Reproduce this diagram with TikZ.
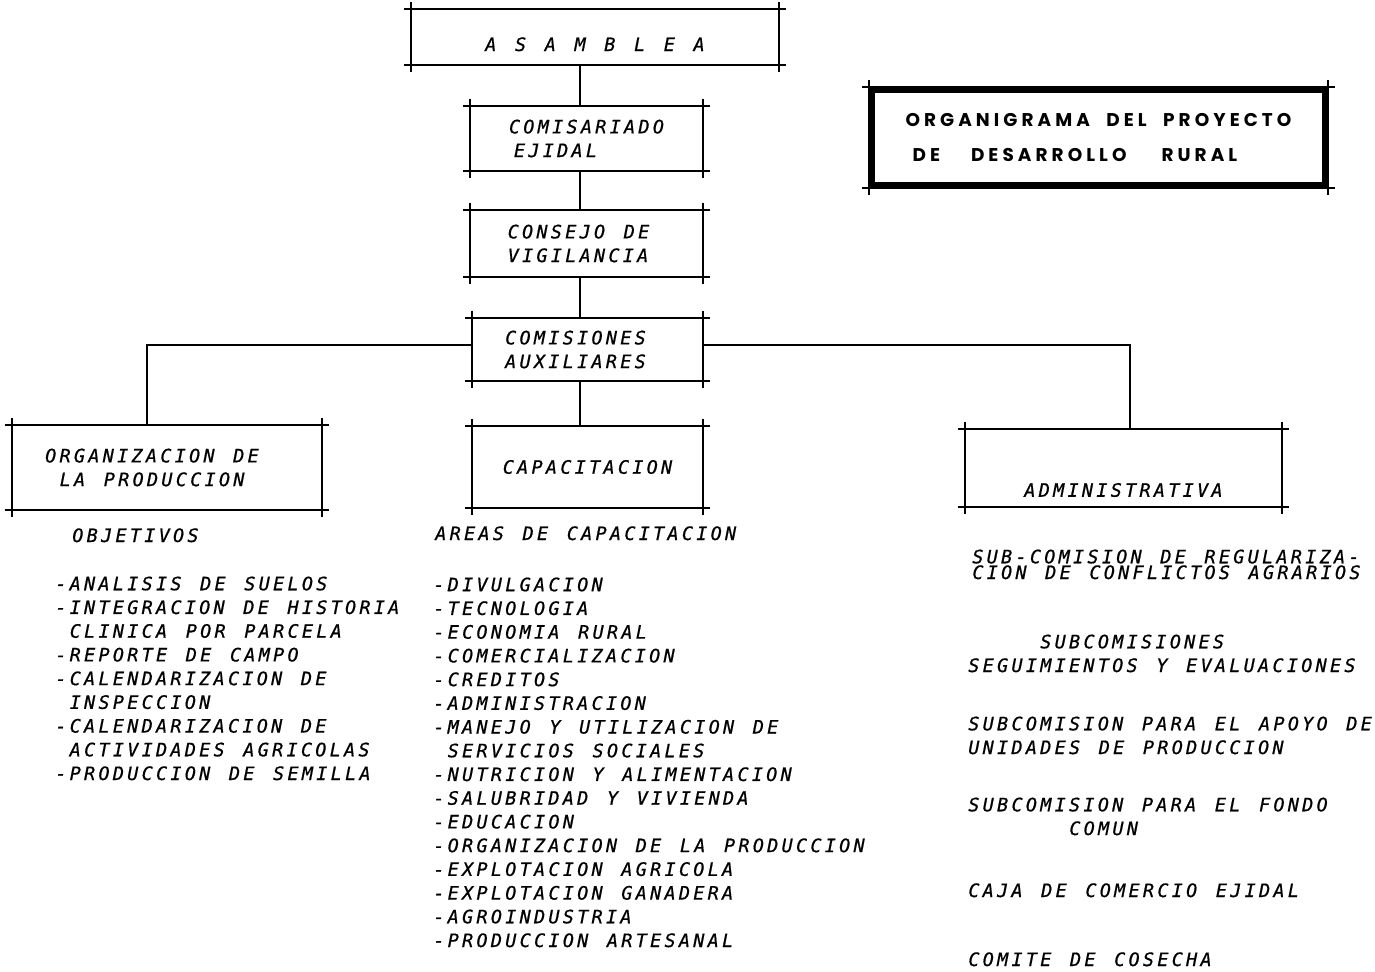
\documentclass[tikz,border=0pt]{standalone}
\usepackage{fontspec}
\usetikzlibrary{positioning,calc}
\newfontfamily\letterfont{DejaVu Sans Mono Oblique}[LetterSpace=17.8, WordSpace={1.296,0,0}, FakeBold=0.7]
\newfontfamily\titlefont{Poppins}[LetterSpace=22]

\tikzset{
  every node/.style={font=\letterfont\fontsize{10.5}{13.5}\selectfont, inner sep=0pt},
  boxside/.style={draw, line width=1.1pt, shorten <=-4pt, shorten >=-4pt},
  orgbox/.style={align=left, append after command={
      (\tikzlastnode.north west) edge[boxside] (\tikzlastnode.north east)
      (\tikzlastnode.south west) edge[boxside] (\tikzlastnode.south east)
      (\tikzlastnode.north west) edge[boxside] (\tikzlastnode.south west)
      (\tikzlastnode.north east) edge[boxside] (\tikzlastnode.south east)}},
  link/.style={line width=1.1pt},
  textcol/.style={anchor=base west, align=left}
}

\begin{document}
\begin{tikzpicture}[x=0.02cm,y=-0.02cm]
  \useasboundingbox (0,0) rectangle (1375,971);
  % boxes of the chart
  \node[orgbox, minimum width=7.36cm, minimum height=1.12cm, text height=0.56cm, text depth=0pt] (asamblea) at (595,37) {A S A M B L E A};
  \node[orgbox, minimum width=4.66cm, minimum height=1.3cm] (comisariado) at (586.5,138.5) {COMISARIADO\\\hspace*{0.1cm}EJIDAL};
  \node[orgbox, minimum width=4.66cm, minimum height=1.34cm] (consejo) at (586.5,243.5) {\hspace*{-0.32cm}CONSEJO DE\\\hspace*{-0.32cm}VIGILANCIA};
  \node[orgbox, minimum width=4.62cm, minimum height=1.26cm] (comisiones) at (587.5,349.5) {\hspace*{-0.48cm}COMISIONES\\\hspace*{-0.48cm}AUXILIARES};
  \node[orgbox, minimum width=6.2cm, minimum height=1.7cm] (organizacion) at (167,467.5) {\hspace*{-0.6cm}ORGANIZACION DE\\\hspace*{-0.31cm}LA PRODUCCION};
  \node[orgbox, minimum width=4.62cm, minimum height=1.64cm] (capacitacion) at (587.5,467) {CAPACITACION};
  \node[orgbox, minimum width=6.34cm, minimum height=1.56cm, text height=1.15cm, text depth=0pt] (administrativa) at (1123.5,468) {ADMINISTRATIVA};
  \node[orgbox, draw, line width=3pt, minimum width=9.06cm, minimum height=1.9cm, font=\titlefont\bfseries\fontsize{10.5}{20}\selectfont] (titulo) at (1098.5,137.5) {ORGANIGRAMA\hspace{0.33cm}DEL\hspace{0.33cm}PROYECTO\\\hspace*{0.14cm}DE\hspace{0.62cm}DESARROLLO\hspace{0.7cm}RURAL};

  % connectors
  \coordinate (spine) at (580,0);
  \coordinate (lbend) at (147,345);
  \coordinate (rbend) at (1130,345);
  \draw[link] (asamblea.south -| spine) -- (comisariado.north -| spine);
  \draw[link] (comisariado.south -| spine) -- (consejo.north -| spine);
  \draw[link] (consejo.south -| spine) -- (comisiones.north -| spine);
  \draw[link] (comisiones.south -| spine) -- (capacitacion.north -| spine);
  \draw[link] (comisiones.west |- lbend) -- (lbend) -- (organizacion.north -| lbend);
  \draw[link] (comisiones.east |- rbend) -- (rbend) -- (administrativa.north -| rbend);

  % lists under the boxes (base = last line)
  \node[anchor=base west] (objetivos) at (72,542) {OBJETIVOS};
  \node[textcol] (objlist) at (55,780) {-ANALISIS DE SUELOS\\-INTEGRACION DE HISTORIA\\\hspace*{0.288cm}CLINICA POR PARCELA\\-REPORTE DE CAMPO\\-CALENDARIZACION DE\\\hspace*{0.288cm}INSPECCION\\-CALENDARIZACION DE\\\hspace*{0.288cm}ACTIVIDADES AGRICOLAS\\-PRODUCCION DE SEMILLA};
  \node[anchor=base west] (areas) at (435,540) {AREAS DE CAPACITACION};
  \node[textcol] (arealist) at (433,947) {-DIVULGACION\\-TECNOLOGIA\\-ECONOMIA RURAL\\-COMERCIALIZACION\\-CREDITOS\\-ADMINISTRACION\\-MANEJO Y UTILIZACION DE\\\hspace*{0.288cm}SERVICIOS SOCIALES\\-NUTRICION Y ALIMENTACION\\-SALUBRIDAD Y VIVIENDA\\-EDUCACION\\-ORGANIZACION DE LA PRODUCCION\\-EXPLOTACION AGRICOLA\\-EXPLOTACION GANADERA\\-AGROINDUSTRIA\\-PRODUCCION ARTESANAL};
  \node[textcol] (regulariza) at (972,579) {SUB-COMISION DE REGULARIZA-\\[-0.16cm]CION DE CONFLICTOS AGRARIOS};
  \node[textcol] (seguimiento) at (968,672) {\hspace*{1.44cm}SUBCOMISIONES\\SEGUIMIENTOS Y EVALUACIONES};
  \node[textcol] (apoyo) at (968,754) {SUBCOMISION PARA EL APOYO DE\\UNIDADES DE PRODUCCION};
  \node[textcol] (fondo) at (968,835) {SUBCOMISION PARA EL FONDO\\\hspace*{2.02cm}COMUN};
  \node[textcol] (caja) at (968,897) {CAJA DE COMERCIO EJIDAL};
  \node[textcol] (cosecha) at (968,966) {COMITE DE COSECHA};
\end{tikzpicture}
\end{document}
